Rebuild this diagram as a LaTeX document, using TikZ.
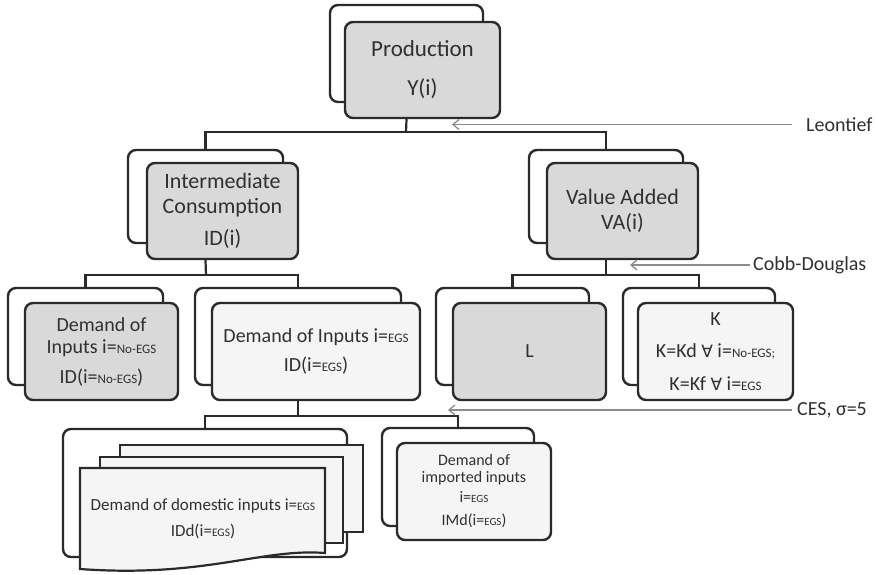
\documentclass[tikz,border=0pt]{standalone}
\usepackage{fontspec}
\setmainfont{Carlito}
\newfontfamily\symfont{DejaVu Sans}
\usetikzlibrary{arrows.meta}
\definecolor{bord}{HTML}{2A2A2A}
\definecolor{txt}{HTML}{303030}
\definecolor{fillD}{HTML}{D9D9D9}
\definecolor{fillL}{HTML}{F5F5F5}
\definecolor{arr}{HTML}{8C8C8C}
\newcommand\smA[1]{{\fontsize{13}{13}\selectfont #1}}
\newcommand\smB[1]{{\fontsize{11.5}{11.5}\selectfont #1}}
\newcommand\smC[1]{{\fontsize{11}{11}\selectfont #1}}
\begin{document}
\begin{tikzpicture}[x=1pt,y=-1pt,
  box/.style={draw=bord, line width=2.4pt, rounded corners=8pt, inner sep=0pt},
  backbox/.style={box, fill=white},
  darkbox/.style={box, fill=fillD, text=txt, align=center},
  lightbox/.style={box, fill=fillL, text=txt, align=center},
  sheet/.style={draw=bord, line width=2.2pt, fill=fillL},
  conn/.style={draw=bord, line width=2.2pt},
  note/.style={draw=arr, line width=1.3pt, -{Straight Barb[length=6pt,width=10pt]}},
  lab/.style={text=txt, anchor=west, inner sep=0pt, font=\fontsize{20}{20}\selectfont}]
\useasboundingbox (0,0) rectangle (878,574);

% Level 1
\node[backbox, minimum width=153pt, minimum height=97pt] (pB) at (406.5,53.5) {};
\node[darkbox, minimum width=155pt, minimum height=96pt, font=\fontsize{23}{39}\selectfont] (pF) at (422.5,70) {Production\\Y(i)};

% Level 2
\node[backbox, minimum width=155pt, minimum height=93pt] (icB) at (205.5,196.5) {};
\node[darkbox, minimum width=151pt, minimum height=96pt, font=\fontsize{22}{25}\selectfont] (icF) at (222.5,211) {Intermediate\\Consumption\\[7pt]ID(i)};
\node[backbox, minimum width=154pt, minimum height=93pt] (vaB) at (606,196.5) {};
\node[darkbox, minimum width=151pt, minimum height=96pt, font=\fontsize{22}{25}\selectfont] (vaF) at (622.5,211) {Value Added\\VA(i)};

% Level 3
\node[backbox, minimum width=155pt, minimum height=97pt] (neB) at (85.5,336.5) {};
\node[darkbox, minimum width=153pt, minimum height=97pt, font=\fontsize{20}{22}\selectfont] (neF) at (101.5,351.5) {Demand of\\Inputs i=\smA{No-EGS}\\[8pt]ID(i=\smA{No-EGS})};
\node[backbox, minimum width=206pt, minimum height=97pt] (egB) at (298,336.5) {};
\node[lightbox, minimum width=208pt, minimum height=97pt, font=\fontsize{20}{29}\selectfont] (egF) at (316,351.5) {Demand of Inputs i=\smA{EGS}\\ID(i=\smA{EGS})};
\node[backbox, minimum width=153pt, minimum height=97pt] (lB) at (512.5,336.5) {};
\node[darkbox, minimum width=153pt, minimum height=97pt, font=\fontsize{20}{22}\selectfont] (lF) at (529.5,351.5) {L};
\node[backbox, minimum width=152pt, minimum height=97pt] (kB) at (699,336.5) {};
\node[lightbox, minimum width=155pt, minimum height=97pt, font=\fontsize{20}{32.5}\selectfont] (kF) at (715.5,351.5) {K\\K=Kd {\symfont\fontsize{17}{17}\selectfont ∀} i=\smA{No-EGS;}\\K=Kf {\symfont\fontsize{17}{17}\selectfont ∀} i=\smA{EGS}};

% Level 4
\node[backbox, minimum width=284pt, minimum height=128pt] (domB) at (205,493) {};
\draw[sheet] (120,445) rectangle (363,532);
\draw[sheet] (100,457) rectangle (343,543);
\draw[sheet] (80,468) -- (325,468) -- (325,553) .. controls (262,548) and (205,578) .. (80,569) -- cycle;
\node[text=txt, align=center, inner sep=0pt, font=\fontsize{17}{26}\selectfont] (domT) at (203,519) {Demand of domestic inputs i=\smB{EGS}\\IDd(i=\smB{EGS})};
\node[backbox, minimum width=152pt, minimum height=98pt] (imB) at (458,477) {};
\node[lightbox, minimum width=154pt, minimum height=97pt, font=\fontsize{16}{17}\selectfont] (imF) at (474,491.5) {Demand of\\imported inputs\\[3pt]i=\smC{EGS}\\[6pt]IMd(i=\smC{EGS})};

% Connectors
\coordinate (j1) at (406,132);
\coordinate (j2) at (206,275);
\coordinate (j3) at (606,275);
\coordinate (j4) at (298,416);
\draw[conn] (pB.center |- pF.south) -- (j1);
\draw[conn] (icB.north) |- (j1) -| (vaB.north);
\draw[conn] (icB.center |- icF.south) -- (j2);
\draw[conn] (neB.north) |- (j2) -| (egB.north);
\draw[conn] (vaB.center |- vaF.south) -- (j3);
\draw[conn] (lB.north) |- (j3) -| (kB.north);
\draw[conn] (egB.center |- egF.south) -- (j4);
\draw[conn] (domB.north) |- (j4) -| (imB.north);

% Labels and arrows
\node[lab] (leo) at (806,124.5) {Leontief};
\coordinate (t1) at (452,124.5);
\draw[note, shorten <=14pt] (leo.west) -- (t1);
\node[lab] (cobb) at (753,265) {Cobb-Douglas};
\coordinate (t2) at (630,265);
\draw[note, shorten <=3pt] (cobb.west) -- (t2);
\node[lab] (ces) at (797,410) {CES, σ=5};
\coordinate (t3) at (448,410);
\draw[note, shorten <=5pt] (ces.west) -- (t3);
\end{tikzpicture}
\end{document}
